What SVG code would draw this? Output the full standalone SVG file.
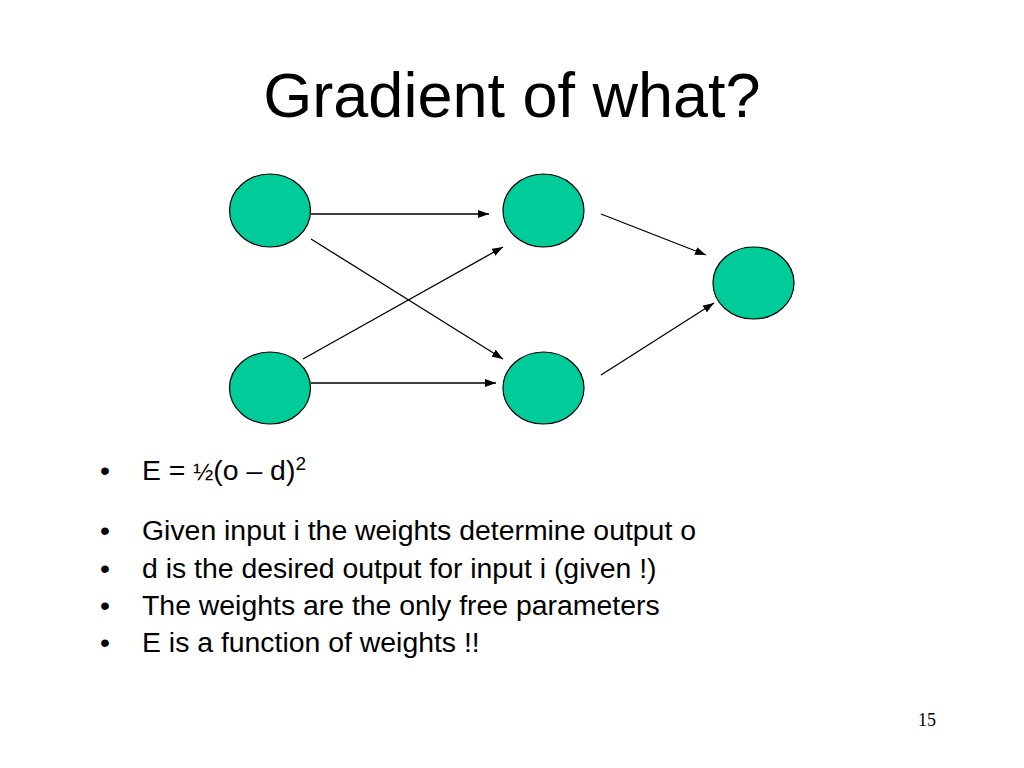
<svg xmlns="http://www.w3.org/2000/svg" width="1024" height="768" viewBox="0 0 1024 768">
<style>
.node{fill:#00CC99;stroke:#000;stroke-width:1.2}
.edge{stroke:#000;stroke-width:1.3;fill:none;marker-end:url(#arr)}
.t{font-family:"Liberation Sans",Arial,sans-serif;fill:#000}
</style>
<defs>
<marker id="arr" viewBox="0 0 11 8" refX="11" refY="4" markerWidth="11" markerHeight="8" markerUnits="userSpaceOnUse" orient="auto">
<path d="M0,0 L11,4 L0,8 Z" fill="#000"/>
</marker>
</defs>
<rect width="1024" height="768" fill="#fff"/>
<text class="t" x="512" y="117" font-size="63" text-anchor="middle">Gradient of what?</text>
<g id="connectors">
<line class="edge" x1="311" y1="214" x2="489" y2="214"/>
<line class="edge" x1="311" y1="239" x2="503" y2="359"/>
<line class="edge" x1="303" y1="359" x2="503" y2="247"/>
<line class="edge" x1="311" y1="383" x2="496" y2="383"/>
<line class="edge" x1="601" y1="214" x2="706" y2="255"/>
<line class="edge" x1="601" y1="375" x2="714" y2="303"/>
</g>
<g id="n1"><ellipse class="node" cx="270" cy="210.5" rx="40.5" ry="36.5"/></g>
<g id="n2"><ellipse class="node" cx="270" cy="388" rx="40.5" ry="36"/></g>
<g id="n3"><ellipse class="node" cx="543.5" cy="210.5" rx="40.5" ry="36.5"/></g>
<g id="n4"><ellipse class="node" cx="543.5" cy="388" rx="40.5" ry="36"/></g>
<g id="n5"><ellipse class="node" cx="753.5" cy="283" rx="40.5" ry="36"/></g>
<g class="t" font-size="28.4">
<text class="t" x="100" y="480">•</text>
<text class="t" x="142" y="480">E = <tspan font-size="24">½</tspan>(o – d)<tspan font-size="19" dy="-10">2</tspan></text>
<text class="t" x="100" y="540">•</text>
<text class="t" x="142" y="540">Given input i the weights determine output o</text>
<text class="t" x="100" y="577.5">•</text>
<text class="t" x="142" y="577.5">d is the desired output for input i (given !)</text>
<text class="t" x="100" y="615">•</text>
<text class="t" x="142" y="615">The weights are the only free parameters</text>
<text class="t" x="100" y="652">•</text>
<text class="t" x="142" y="652">E is a function of weights !!</text>
</g>
<text x="936" y="726" font-family="Liberation Serif,'Times New Roman',serif" font-size="18" text-anchor="end">15</text>
</svg>
